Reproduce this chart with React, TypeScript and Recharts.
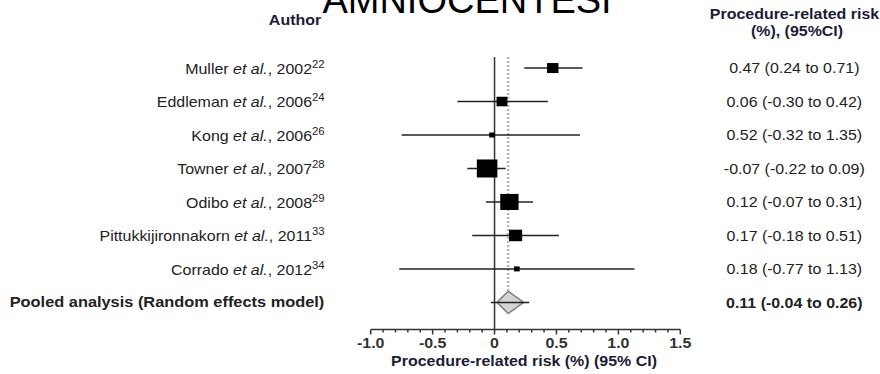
import React from "react";
import { ComposedChart, XAxis, YAxis, Scatter, Area, ReferenceLine } from "recharts";

// ---- data ----
const authors = ["Muller", "Eddleman", "Kong", "Towner", "Odibo", "Pittukkijironnakorn", "Corrado"];
const years = ["2002", "2006", "2006", "2007", "2008", "2011", "2012"];
const refs = ["22", "24", "26", "28", "29", "33", "34"];
const estimates = [0.47, 0.06, -0.02, -0.06, 0.12, 0.17, 0.18];
const lowers = [0.24, -0.3, -0.75, -0.22, -0.07, -0.18, -0.77];
const uppers = [0.71, 0.43, 0.69, 0.09, 0.31, 0.52, 1.13];
const weights = [10.5, 9.5, 2.6, 34.0, 26.9, 13.9, 2.6];
const riskLabels = [
  "0.47 (0.24 to 0.71)",
  "0.06 (-0.30 to 0.42)",
  "0.52 (-0.32 to 1.35)",
  "-0.07 (-0.22 to 0.09)",
  "0.12 (-0.07 to 0.31)",
  "0.17 (-0.18 to 0.51)",
  "0.18 (-0.77 to 1.13)",
];
const pooledLabel = "Pooled analysis (Random effects model)";
const pooledRiskLabel = "0.11 (-0.04 to 0.26)";
const pooledEstimate = 0.11;
const pooledDiamondLow = 0.02;
const pooledDiamondHigh = 0.235;
const pooledLineLow = -0.03;
const pooledLineHigh = 0.28;

const majorTicks = [-1, -0.5, 0, 0.5, 1, 1.5];
const majorTickLabels = ["-1.0", "-0.5", "0", "0.5", "1.0", "1.5"];
const minorTicks = [-0.9, -0.8, -0.7, -0.6, -0.4, -0.3, -0.2, -0.1, 0.1, 0.2, 0.3, 0.4, 0.6, 0.7, 0.8, 0.9, 1.1, 1.2, 1.3, 1.4];
const xAxisTitle = "Procedure-related risk (%) (95% CI)";
const titleText = "AMNIOCENTESI";
const authorHeader = "Author";
const riskHeader1 = "Procedure-related risk";
const riskHeader2 = "(%), (95%CI)";

// ---- derived ----
const nStudies = authors.length;
const pooledRow = nStudies;
const rowTicks = [...authors.map((_, i) => i), pooledRow];
const allTicks = [...majorTicks, ...minorTicks].sort((a, b) => a - b);
const DIAMOND_HALF = 0.335;
const Y_DOMAIN: [number, number] = [-0.33, 7.81];
const studyPoints = authors.map((_, i) => ({ x: estimates[i], y: i, weight: weights[i] }));
const diamondData = [
  { x: pooledDiamondLow, band: [pooledRow, pooledRow] },
  { x: pooledEstimate, band: [pooledRow - DIAMOND_HALF, pooledRow + DIAMOND_HALF] },
  { x: pooledDiamondHigh, band: [pooledRow, pooledRow] },
];

const FONT = "'Liberation Sans', Arial, Helvetica, sans-serif";
const SX = 1.14;
const TXT = "#222";

function SText(props: any) {
  const { x, y, anchor = "start", weight = "normal", size = 14, fill = TXT, sx = SX, children } = props;
  return (
    <g transform={`translate(${x},${y}) scale(${sx},1)`}>
      <text x={0} y={0} textAnchor={anchor} dominantBaseline="central" fontFamily={FONT} fontSize={size} fontWeight={weight} fill={fill}>
        {children}
      </text>
    </g>
  );
}

const LeftTick = (props: any) => {
  const { x, y, payload } = props;
  const i = Math.round(payload.value);
  if (i < nStudies) {
    return (
      <SText x={x - 46} y={y} anchor="end">
        <tspan>{authors[i]} </tspan>
        <tspan fontStyle="italic">et al.</tspan>
        <tspan>, {years[i]}</tspan>
        <tspan fontSize={10} dy={-4}>{refs[i]}</tspan>
      </SText>
    );
  }
  return (
    <SText x={x - 361} y={y} anchor="start" weight="bold" sx={1.17}>
      {pooledLabel}
    </SText>
  );
};

const RightTick = (props: any) => {
  const { x, y, payload } = props;
  const i = Math.round(payload.value);
  const label = i < nStudies ? riskLabels[i] : pooledRiskLabel;
  return (
    <SText x={x + 114} y={y} anchor="middle" weight={i < nStudies ? "normal" : "bold"}>
      {label}
    </SText>
  );
};

const XTick = (props: any) => {
  const { x, y, payload } = props;
  const v = payload.value;
  const mi = majorTicks.findIndex((m) => Math.abs(m - v) < 1e-9);
  const major = mi >= 0;
  return (
    <g>
      <line x1={x} x2={x} y1={y} y2={y + (major ? 5 : 3)} stroke="#333" strokeWidth={1.5} />
      {major && (
        <SText x={x} y={y + 13.5} anchor="middle" weight="bold" fill="#333">
          {majorTickLabels[mi]}
        </SText>
      )}
    </g>
  );
};

const Square = (props: any) => {
  const { cx, cy, payload } = props;
  const h = 3.09 * Math.sqrt(payload.weight);
  const w = h * SX;
  return <rect x={cx - w / 2} y={cy - h / 2} width={w} height={h} fill="#000" />;
};

export default function App() {
  return (
    <div style={{ position: "absolute", left: 0, top: 0, width: 880, height: 374, background: "#fff" }}>
      <ComposedChart
        width={880}
        height={374}
        data={diamondData}
        margin={{ top: 57, right: 99.7, bottom: 4.5, left: 270.7 }}
      >
        <XAxis
          dataKey="x"
          type="number"
          domain={[-1, 1.5]}
          ticks={allTicks}
          interval={0}
          tickSize={0}
          tickMargin={0}
          tickLine={false}
          axisLine={{ stroke: "#333", strokeWidth: 1.5 }}
          tick={<XTick />}
          height={40}
          allowDataOverflow
        />
        <YAxis
          yAxisId="left"
          type="number"
          domain={Y_DOMAIN}
          reversed
          ticks={rowTicks}
          interval={0}
          tick={<LeftTick />}
          width={100}
          axisLine={false}
          tickLine={false}
          tickSize={0}
          tickMargin={0}
          allowDataOverflow
        />
        <YAxis
          yAxisId="right"
          orientation="right"
          type="number"
          domain={Y_DOMAIN}
          reversed
          ticks={rowTicks}
          interval={0}
          tick={<RightTick />}
          width={100}
          axisLine={false}
          tickLine={false}
          tickSize={0}
          tickMargin={0}
          allowDataOverflow
        />
        <ReferenceLine yAxisId="left" x={0} stroke="#333" strokeWidth={1.5} />
        <ReferenceLine
          yAxisId="left"
          segment={[
            { x: pooledEstimate, y: Y_DOMAIN[0] },
            { x: pooledEstimate, y: pooledRow - DIAMOND_HALF },
          ]}
          stroke="#b4b4b4"
          strokeWidth={2.5}
          strokeDasharray="2 2"
        />
        {authors.map((_, i) => (
          <ReferenceLine
            key={i}
            yAxisId="left"
            segment={[
              { x: lowers[i], y: i },
              { x: uppers[i], y: i },
            ]}
            stroke="#222"
            strokeWidth={1.5}
          />
        ))}
        <Area
          yAxisId="left"
          dataKey="band"
          type="linear"
          stroke="#808080"
          strokeWidth={1.5}
          fill="#d4d4d4"
          fillOpacity={1}
          dot={false}
          activeDot={false}
          isAnimationActive={false}
        />
        <ReferenceLine
          yAxisId="left"
          segment={[
            { x: pooledLineLow, y: pooledRow },
            { x: pooledLineHigh, y: pooledRow },
          ]}
          stroke="#222"
          strokeWidth={1.5}
        />
        <Scatter yAxisId="left" data={studyPoints} dataKey="y" shape={<Square />} isAnimationActive={false} />
        <text x={467} y={12.5} textAnchor="middle" fontFamily={FONT} fontSize={38} fill="#000">
          {titleText}
        </text>
        <SText x={295} y={20} anchor="middle" weight="bold" fill="#1c1c34">
          {authorHeader}
        </SText>
        <SText x={794.5} y={14} anchor="middle" weight="bold" fill="#1c1c34">
          {riskHeader1}
        </SText>
        <SText x={797} y={31} anchor="middle" weight="bold" fill="#1c1c34">
          {riskHeader2}
        </SText>
        <SText x={524} y={361} anchor="middle" weight="bold" fill="#1c1c34">
          {xAxisTitle}
        </SText>
      </ComposedChart>
    </div>
  );
}
